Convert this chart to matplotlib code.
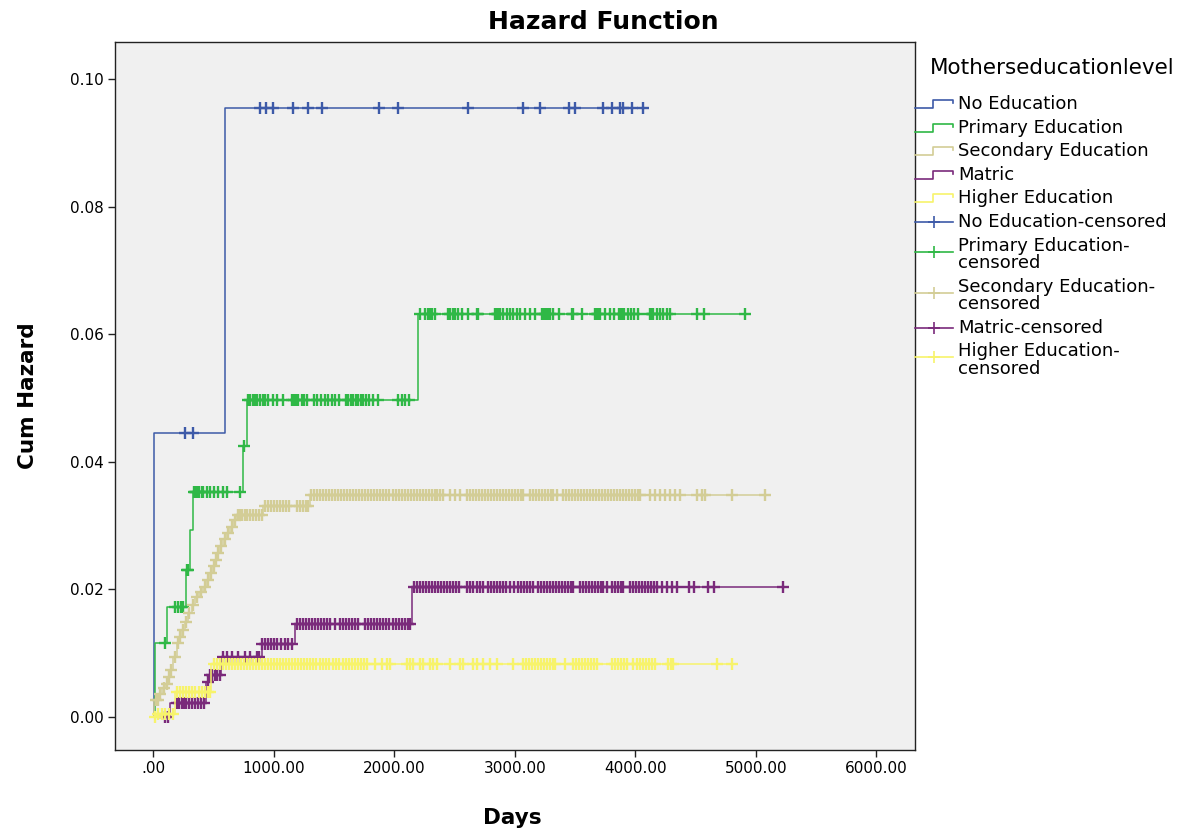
import numpy as np
import matplotlib
matplotlib.use('Agg')
import matplotlib.pyplot as plt
from matplotlib.lines import Line2D

# Cumulative hazard by mother's education level (step times in days, hazard after each step)
groups = ['No Education', 'Primary Education', 'Secondary Education', 'Matric', 'Higher Education']

no_edu_t = [0, 8, 595, 4105]
no_edu_h = [0, 0.0445, 0.0955, 0.0955]
no_edu_cens = [263, 327, 883, 933, 991, 1162, 1286, 1400, 1876, 2033, 2609, 3071, 3209, 3452,
               3500, 3734, 3804, 3873, 3895, 3970, 4066]

primary_t = [0, 10, 111, 271, 305, 327, 747, 775, 2199, 4943]
primary_h = [0, 0.0115, 0.0172, 0.0230, 0.0292, 0.0353, 0.0424, 0.0496, 0.0632, 0.0632]
primary_cens = [97, 180, 205, 230, 249, 277, 288, 335, 345, 358, 368, 382, 400, 413, 443, 470,
                503, 540, 576, 609, 720, 755, 783, 802, 825, 844, 863, 885, 908, 927, 954, 996,
                1024, 1074, 1149, 1168, 1184, 1203, 1232, 1251, 1273, 1334, 1356, 1389, 1425,
                1452, 1480, 1508, 1544, 1599, 1618, 1638, 1660, 1682, 1701, 1721, 1743, 1765,
                1793, 1826, 1867, 2033, 2061, 2089, 2124, 2213, 2255, 2280, 2296, 2313, 2338,
                2443, 2462, 2485, 2504, 2531, 2559, 2614, 2684, 2697, 2836, 2852, 2861, 2877,
                2902, 2935, 2960, 2985, 3018, 3043, 3085, 3126, 3168, 3223, 3234, 3251, 3267,
                3276, 3292, 3317, 3367, 3472, 3485, 3555, 3665, 3682, 3690, 3707, 3749, 3788,
                3821, 3862, 3878, 3895, 3903, 3936, 3961, 3986, 4019, 4122, 4139, 4147, 4180,
                4205, 4230, 4263, 4288, 4510, 4570, 4910]

secondary_t = [0, 5, 40, 70, 97, 120, 139, 166, 194, 215, 236, 262, 290, 318, 346, 380, 415,
               440, 470, 490, 512, 530, 553, 580, 609, 635, 664, 692, 913, 1300, 5118]
secondary_h = [0, 0.0026, 0.0036, 0.0045, 0.0052, 0.0063, 0.0073, 0.0094, 0.0115, 0.0125,
               0.0136, 0.0149, 0.0162, 0.0175, 0.0188, 0.0196, 0.0204, 0.0214, 0.0225, 0.0236,
               0.0246, 0.0256, 0.0267, 0.0278, 0.0288, 0.0298, 0.0309, 0.0316, 0.0331, 0.0348,
               0.0348]
secondary_cens = [20, 35, 55, 85, 110, 130, 150, 180, 205, 225, 250, 275, 300, 330, 360, 395,
                  425, 455, 480, 500, 520, 540, 565, 595, 620, 650, 675, 700, 720, 740, 760, 780,
                  800, 825, 850, 875, 900, 925, 950, 975, 1000, 1025, 1050, 1075, 1100, 1125,
                  1190, 1215, 1240, 1265, 1285, 1310, 1335, 1360, 1385, 1410, 1435, 1460, 1485,
                  1510, 1535, 1560, 1585, 1610, 1635, 1660, 1685, 1710, 1735, 1760, 1785, 1810,
                  1835, 1860, 1885, 1910, 1935, 1960, 1985, 2010, 2035, 2060, 2085, 2110, 2135,
                  2160, 2185, 2210, 2235, 2260, 2285, 2310, 2335, 2352, 2380, 2407, 2462, 2504,
                  2545, 2601, 2625, 2650, 2675, 2700, 2725, 2750, 2775, 2800, 2825, 2850, 2875,
                  2900, 2925, 2950, 2975, 3000, 3025, 3050, 3071, 3126, 3150, 3175, 3200, 3225,
                  3250, 3275, 3300, 3320, 3348, 3402, 3425, 3450, 3475, 3500, 3525, 3550, 3575,
                  3600, 3625, 3650, 3675, 3700, 3725, 3750, 3775, 3800, 3825, 3850, 3875, 3900,
                  3925, 3950, 3975, 4000, 4025, 4039, 4122, 4165, 4205, 4250, 4290, 4330, 4371,
                  4510, 4551, 4579, 4800, 5076]

matric_t = [0, 139, 440, 470, 560, 900, 1176, 2144, 5270]
matric_h = [0, 0.0021, 0.0055, 0.0065, 0.0094, 0.0114, 0.0146, 0.0204, 0.0204]
matric_cens = [97, 120, 195, 215, 235, 255, 275, 300, 320, 345, 370, 395, 420, 450, 470, 490,
               510, 530, 550, 580, 610, 650, 700, 760, 800, 860, 880, 905, 930, 955, 980, 1005,
               1030, 1060, 1090, 1120, 1150, 1190, 1215, 1240, 1265, 1290, 1315, 1340, 1365,
               1390, 1415, 1440, 1465, 1510, 1550, 1575, 1600, 1625, 1650, 1675, 1700, 1760,
               1785, 1810, 1835, 1860, 1885, 1910, 1935, 1960, 1985, 2010, 2035, 2060, 2085,
               2110, 2130, 2160, 2185, 2210, 2235, 2260, 2285, 2310, 2335, 2360, 2385, 2410,
               2435, 2460, 2485, 2510, 2540, 2605, 2630, 2655, 2685, 2710, 2740, 2780, 2805,
               2830, 2855, 2880, 2905, 2930, 2960, 2990, 3030, 3055, 3080, 3105, 3125, 3155,
               3195, 3220, 3245, 3270, 3295, 3320, 3345, 3370, 3395, 3420, 3445, 3470, 3485,
               3540, 3565, 3590, 3615, 3640, 3665, 3690, 3715, 3735, 3765, 3805, 3835, 3860,
               3880, 3900, 3955, 3980, 4005, 4030, 4055, 4080, 4105, 4130, 4155, 4178, 4225,
               4265, 4305, 4350, 4445, 4490, 4600, 4655, 5225]

higher_t = [0, 20, 180, 480, 4841]
higher_h = [0, 0.0004, 0.0039, 0.0083, 0.0083]
higher_cens = [10, 40, 70, 100, 130, 160, 200, 225, 250, 275, 300, 325, 350, 375, 400, 425,
               450, 470, 500, 525, 550, 575, 600, 625, 650, 675, 700, 725, 750, 775, 800, 825,
               850, 875, 900, 925, 950, 975, 1000, 1025, 1050, 1075, 1100, 1125, 1150, 1175,
               1200, 1225, 1250, 1275, 1300, 1325, 1350, 1385, 1410, 1435, 1455, 1495, 1520,
               1545, 1570, 1595, 1620, 1645, 1670, 1695, 1720, 1745, 1770, 1840, 1895, 1937,
               1964, 2105, 2130, 2158, 2213, 2241, 2296, 2325, 2352, 2462, 2545, 2573, 2656,
               2684, 2739, 2794, 2850, 2988, 3071, 3095, 3120, 3145, 3170, 3195, 3220, 3245,
               3265, 3290, 3315, 3333, 3416, 3486, 3510, 3535, 3560, 3585, 3610, 3635, 3660,
               3680, 3804, 3830, 3855, 3880, 3905, 3929, 3984, 4010, 4035, 4060, 4085, 4110,
               4135, 4164, 4274, 4295, 4315, 4676, 4800]

x_ticks = [0, 1000, 2000, 3000, 4000, 5000, 6000]
x_tick_labels = ['.00', '1000.00', '2000.00', '3000.00', '4000.00', '5000.00', '6000.00']
y_ticks = [0.0, 0.02, 0.04, 0.06, 0.08, 0.10]
y_tick_labels = ['0.00', '0.02', '0.04', '0.06', '0.08', '0.10']

colors = ['#3d5aa8', '#2fb846', '#d3cd96', '#7a2a7b', '#f7f36b']

series = [
    (no_edu_t, no_edu_h, no_edu_cens),
    (primary_t, primary_h, primary_cens),
    (secondary_t, secondary_h, secondary_cens),
    (matric_t, matric_h, matric_cens),
    (higher_t, higher_h, higher_cens),
]


def hazard_at(times, values, t):
    idx = np.searchsorted(times, t, side='right') - 1
    return np.asarray(values)[idx]


W, H = 1194, 833
fig = plt.figure(figsize=(W / 100, H / 100), dpi=100)


def fx(px):
    return px / W


def fy(py):
    return 1 - py / H


ax = fig.add_axes([fx(115), fy(750), 800 / W, 708 / H])
ax.set_facecolor('#f0f0f0')

for (t, h, cens), col in zip(series, colors):
    ax.step(t, h, where='post', color=col, lw=1.1)
    ax.plot(cens, hazard_at(t, h, cens), ls='none', marker='+', ms=9, mew=1.7, color=col)

ax.set_xlim(-318, 6321)
ax.set_ylim(-0.00522, 0.1058)
ax.set_xticks(x_ticks)
ax.set_xticklabels(x_tick_labels)
ax.set_yticks(y_ticks)
ax.set_yticklabels(y_tick_labels)
ax.tick_params(labelsize=11, length=5, width=1, direction='out', pad=3, color='#222222')
for sp in ax.spines.values():
    sp.set_linewidth(1)
    sp.set_color('#222222')

ax.set_xlabel('Days', fontsize=15.5, fontweight='bold')
ax.xaxis.set_label_coords(0.497, -0.082)
ax.set_ylabel('Cum Hazard', fontsize=15.5, fontweight='bold')
ax.yaxis.set_label_coords(-0.096, 0.5)

fig.text(fx(603), fy(22), 'Hazard Function', ha='center', va='center',
         fontsize=18, fontweight='bold')

# legend drawn by hand: step icons for the curves, crosses for censored cases
fig.text(fx(930), fy(68), 'Motherseducationlevel', ha='left', va='center', fontsize=15.5)
labels = groups + ['No Education-censored', 'Primary Education-\ncensored',
                   'Secondary Education-\ncensored', 'Matric-censored',
                   'Higher Education-\ncensored']
icon_cols = colors + colors
y = 104
for i, (lab, col) in enumerate(zip(labels, icon_cols)):
    lines = lab.split('\n')
    for k, ln in enumerate(lines):
        fig.text(fx(958), fy(y + k * 17.5), ln, ha='left', va='center', fontsize=13)
    yc = y + (len(lines) - 1) * 6
    if i < 5:
        xs = [915, 933, 933, 953, 953]
        ys = [yc + 4, yc + 4, yc - 4, yc - 4, yc - 1]
        fig.add_artist(Line2D([fx(v) for v in xs], [fy(v) for v in ys],
                              color=col, lw=1.2, transform=fig.transFigure))
    else:
        fig.add_artist(Line2D([fx(915), fx(953)], [fy(yc), fy(yc)],
                              color=col, lw=1.2, transform=fig.transFigure))
        fig.add_artist(Line2D([fx(934)], [fy(yc)], color=col, marker='+', ms=9, mew=1.2,
                              ls='none', transform=fig.transFigure))
    y += 23.6 + (len(lines) - 1) * 17.5

fig.savefig('out.png', dpi=100)
